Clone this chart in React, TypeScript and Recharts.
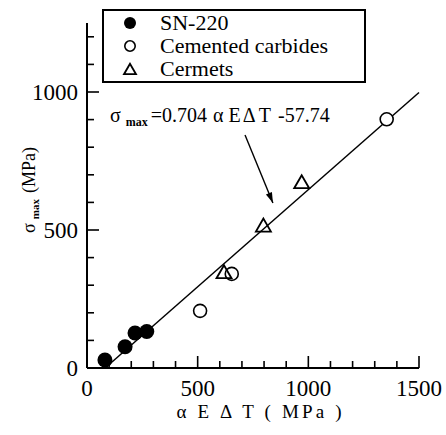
import { ReferenceDot, ReferenceLine, Scatter, ScatterChart, XAxis, YAxis } from 'recharts'

// values (MPa)
const SN220 = [
  { x: 81, y: 29 },
  { x: 172, y: 77 },
  { x: 217, y: 127 },
  { x: 270, y: 132 },
]
const CARBIDES = [
  { x: 511, y: 207 },
  { x: 654, y: 341 },
  { x: 1354, y: 901 },
]
const CERMETS = [
  { x: 619, y: 349 },
  { x: 797, y: 518 },
  { x: 970, y: 675 },
]
// end points of the fitted line drawn in the figure
const FIT = [
  { x: 82, y: 0 },
  { x: 1500, y: 998 },
]
const ARROW = [
  { x: 714, y: 844 },
  { x: 840, y: 598 },
]
const X_TICKS = [0, 100, 200, 300, 400, 500, 600, 700, 800, 900, 1000, 1100, 1200, 1300, 1400, 1500]
const Y_TICKS = [0, 100, 200, 300, 400, 500, 600, 700, 800, 900, 1000, 1100, 1200]
const X_MAJOR = [0, 500, 1000, 1500]
const Y_MAJOR = [0, 500, 1000]
const LEGEND = ['SN-220', 'Cemented carbides', 'Cermets']

const FONT = 'Liberation Serif'
const INK = '#000'
const PAGE_CSS = `html,body{margin:0;padding:0;overflow:hidden;font-family:"Liberation Serif",serif}
svg text,svg tspan{font-family:"Liberation Serif",serif}`

type Sym = 'dot' | 'ring' | 'tri'

function Marker({ cx, cy, kind, size = 1 }: { cx: number; cy: number; kind: Sym; size?: number }) {
  if (kind === 'dot') return <circle cx={cx} cy={cy} r={7.5 * size} fill={INK} />
  if (kind === 'ring') return <circle cx={cx} cy={cy} r={6.5 * size} fill="#fff" stroke={INK} strokeWidth={1.6} />
  const w = 7.5 * size
  const h = 6.5 * size
  return (
    <polygon
      points={`${cx},${cy - h} ${cx - w},${cy + h} ${cx + w},${cy + h}`}
      fill="none"
      stroke={INK}
      strokeWidth={1.8}
    />
  )
}

const shapeFor = (kind: Sym) => (p: any) => <Marker cx={p.cx} cy={p.cy} kind={kind} />

// ticks point inward; labels only on the major values
function BottomTick(props: any) {
  const { x, y, payload } = props
  const major = X_MAJOR.includes(payload.value)
  return (
    <g>
      <path d={`M${x},${y}V${y - (major ? 12 : 7)}`} stroke={INK} strokeWidth={1.6} fill="none" />
      {major && (
        <text x={x} y={y + 28} textAnchor="middle" fontSize={23} fontFamily={FONT} fill={INK}>
          {payload.value}
        </text>
      )}
    </g>
  )
}
function TopTick(props: any) {
  const { x, y, payload } = props
  const major = X_MAJOR.includes(payload.value)
  return <path d={`M${x},${y}V${y + (major ? 12 : 7)}`} stroke={INK} strokeWidth={1.6} fill="none" />
}
function LeftTick(props: any) {
  const { x, y, payload } = props
  const major = Y_MAJOR.includes(payload.value)
  return (
    <g>
      <path d={`M${x},${y}H${x + (major ? 12 : 7)}`} stroke={INK} strokeWidth={1.6} fill="none" />
      {major && (
        <text x={x - 9} y={y + 8} textAnchor="end" fontSize={23} fontFamily={FONT} fill={INK}>
          {payload.value}
        </text>
      )}
    </g>
  )
}
function RightTick(props: any) {
  const { x, y, payload } = props
  const major = Y_MAJOR.includes(payload.value)
  return <path d={`M${x},${y}H${x - (major ? 14 : 7)}`} stroke={INK} strokeWidth={1.6} fill="none" />
}

function Arrow({ x1, y1, x2, y2 }: any) {
  const a = Math.atan2(y2 - y1, x2 - x1)
  const l = 11
  const s = 0.3
  const p1 = `${x2 - l * Math.cos(a - s)},${y2 - l * Math.sin(a - s)}`
  const p2 = `${x2 - l * Math.cos(a + s)},${y2 - l * Math.sin(a + s)}`
  return (
    <g>
      <line x1={x1} y1={y1} x2={x2} y2={y2} stroke={INK} strokeWidth={1.4} />
      <polygon points={`${x2},${y2} ${p1} ${p2}`} fill={INK} />
    </g>
  )
}

function LegendBox() {
  const kinds: Sym[] = ['dot', 'ring', 'tri']
  return (
    <div
      style={{
        position: 'absolute',
        left: 102,
        top: 9,
        width: 260,
        height: 70,
        border: '2px solid #000',
        background: '#fff',
        fontFamily: FONT,
        fontSize: 22,
        lineHeight: '23px',
        paddingTop: 0,
      }}
    >
      {LEGEND.map((name, i) => (
        <div key={name} style={{ display: 'flex', alignItems: 'center', height: 23 }}>
          <svg width={56} height={20} style={{ flexShrink: 0 }}>
            <Marker cx={26} cy={10} kind={kinds[i]} size={0.8} />
          </svg>
          <span>{name}</span>
        </div>
      ))}
    </div>
  )
}

export default function App() {
  return (
    <div style={{ position: 'relative', width: 446, height: 435, overflow: 'hidden', background: '#fff' }}>
      <style>{PAGE_CSS}</style>
      <ScatterChart
        width={446}
        height={435}
        margin={{ top: 23, right: 27, bottom: 37, left: 27 }}
        style={{ fontFamily: FONT }}
      >
        <XAxis
          type="number"
          dataKey="x"
          domain={[0, 1500]}
          ticks={X_TICKS}
          interval={0}
          tickSize={0}
          tickMargin={0}
          tickLine={false}
          tick={<BottomTick />}
          axisLine={{ stroke: INK, strokeWidth: 2 }}
          height={30}
          label={{
            content: ({ viewBox }: any) => (
              <text
                x={viewBox.x + viewBox.width / 2 + 6}
                y={viewBox.y + 50}
                textAnchor="middle"
                fontSize={19}
                fontFamily={FONT}
                fill={INK}
                textLength={165}
                lengthAdjust="spacing"
              >
                α E Δ T ( MPa )
              </text>
            ),
          }}
        />
        <XAxis
          xAxisId="top"
          orientation="top"
          type="number"
          domain={[0, 1500]}
          ticks={X_TICKS}
          interval={0}
          tickSize={0}
          tickMargin={0}
          tickLine={false}
          tick={<TopTick />}
          axisLine={{ stroke: INK, strokeWidth: 2 }}
          height={0}
        />
        <YAxis
          type="number"
          dataKey="y"
          domain={[0, 1250]}
          ticks={Y_TICKS}
          interval={0}
          tickSize={0}
          tickMargin={0}
          tickLine={false}
          tick={<LeftTick />}
          axisLine={{ stroke: INK, strokeWidth: 2 }}
          width={60}
          label={{
            content: ({ viewBox }: any) => (
              <text
                transform={`translate(${viewBox.x + 8},190) rotate(-90)`}
                textAnchor="middle"
                fontSize={18}
                fontFamily={FONT}
                fill={INK}
              >
                <tspan>σ</tspan>
                <tspan fontSize={11} fontWeight="bold" dx={4} dy={4}>max</tspan>
                <tspan dx={6} dy={-4}>(MPa)</tspan>
              </text>
            ),
          }}
        />
        <YAxis
          yAxisId="right"
          orientation="right"
          type="number"
          domain={[0, 1250]}
          ticks={Y_TICKS}
          interval={0}
          tickSize={0}
          tickMargin={0}
          tickLine={false}
          tick={<RightTick />}
          axisLine={{ stroke: INK, strokeWidth: 2 }}
          width={0}
        />
        <ReferenceLine segment={FIT} stroke={INK} strokeWidth={1.5} ifOverflow="visible" />
        <ReferenceLine
          segment={ARROW}
          ifOverflow="visible"
          shape={(p: any) => <Arrow x1={p.x1} y1={p.y1} x2={p.x2} y2={p.y2} />}
        />
        <ReferenceDot
          x={104}
          y={891}
          r={0}
          ifOverflow="visible"
          shape={(p: any) => (
            <text x={p.cx} y={p.cy} fontSize={20} fontFamily={FONT} fill={INK}>
              <tspan>σ</tspan>
              <tspan fontSize={12} fontWeight="bold" dx={5} dy={4}>max</tspan>
              <tspan dx={3} dy={-4}>=0.704</tspan>
              <tspan dx={6}>α</tspan>
              <tspan dx={5}>E</tspan>
              <tspan dx={2}>Δ</tspan>
              <tspan dx={3}>T</tspan>
              <tspan dx={9}>-57.74</tspan>
            </text>
          )}
        />
        <Scatter name="SN-220" data={SN220} shape={shapeFor('dot')} isAnimationActive={false} />
        <Scatter name="Cemented carbides" data={CARBIDES} shape={shapeFor('ring')} isAnimationActive={false} />
        <Scatter name="Cermets" data={CERMETS} shape={shapeFor('tri')} isAnimationActive={false} />
      </ScatterChart>
      <LegendBox />
    </div>
  )
}
